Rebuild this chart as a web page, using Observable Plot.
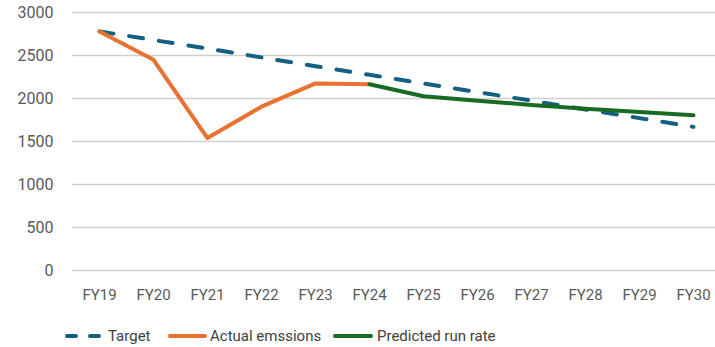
<!DOCTYPE html>
<html><head><meta charset="utf-8">
<script src="https://cdn.jsdelivr.net/npm/d3@7"></script>
<script src="https://cdn.jsdelivr.net/npm/@observablehq/plot@0.6"></script>
<style>
body{margin:0;background:#fff;font-family:Roboto,"Liberation Sans",sans-serif;}
#legend{position:relative;height:37px;width:715px;font-size:15px;color:#404040;}
.item{position:absolute;top:17px;display:flex;align-items:center;}
</style>
</head><body>
<div id="chart"></div>
<div id="legend"></div>
<script>
const years = ["FY19","FY20","FY21","FY22","FY23","FY24","FY25","FY26","FY27","FY28","FY29","FY30"];
const target = [2780,2680,2580,2478,2375,2275,2175,2075,1975,1872,1772,1670];
const actualYears = ["FY19","FY20","FY21","FY22","FY23","FY24"];
const actual = [2780,2450,1540,1905,2175,2165];
const predictedYears = ["FY24","FY25","FY26","FY27","FY28","FY29","FY30"];
const predicted = [2165,2027,1975,1925,1880,1842,1806];
const yTicks = [0,500,1000,1500,2000,2500,3000];

const C_T = "#156082", C_A = "#E97132", C_P = "#196B24";
const tData = years.map((x,i)=>({x, y: target[i]}));
const aData = actualYears.map((x,i)=>({x, y: actual[i]}));
const pData = predictedYears.map((x,i)=>({x, y: predicted[i]}));

const chart = Plot.plot({
  width: 715, height: 310,
  marginLeft: 72, marginRight: 0, marginTop: 12, marginBottom: 40,
  style: {fontFamily: "Roboto, sans-serif", fontSize: "15px", color: "#595959", background: "#fff"},
  x: {type: "point", domain: years, range: [98, 694], padding: 0, label: null},
  y: {domain: [0, 3000], label: null},
  marks: [
    Plot.gridY(yTicks, {stroke: "#d0d0d0", strokeOpacity: 1, strokeWidth: 1.5}),
    Plot.axisY(yTicks, {tickSize: 0, tickPadding: 19, fontSize: 16, tickFormat: "d", fill: "#595959", label: null}),
    Plot.axisX({tickSize: 0, tickPadding: 19, fontSize: 15, fill: "#595959", label: null}),
    Plot.line(tData, {x: "x", y: "y", stroke: C_T, strokeWidth: 4, strokeDasharray: "14,16", strokeLinecap: "round"}),
    Plot.line(aData, {x: "x", y: "y", stroke: C_A, strokeWidth: 4, strokeLinejoin: "round"}),
    Plot.line(pData, {x: "x", y: "y", stroke: C_P, strokeWidth: 4, strokeLinejoin: "round"})
  ]
});
document.getElementById("chart").appendChild(chart);

const items = [
  {label: "Target", color: C_T, dash: "9,14", left: 62, x1: 5, x2: 37, gap: 4},
  {label: "Actual emssions", color: C_A, dash: null, left: 166, x1: 4, x2: 39, gap: 2},
  {label: "Predicted run rate", color: C_P, dash: null, left: 331, x1: 4, x2: 40, gap: 4}
];
const leg = document.getElementById("legend");
for (const it of items) {
  const d = document.createElement("div");
  d.className = "item";
  d.style.left = it.left + "px";
  d.innerHTML = `<svg width="42" height="10"><line x1="${it.x1}" y1="5" x2="${it.x2}" y2="5" stroke="${it.color}" stroke-width="4" stroke-linecap="round" ${it.dash ? `stroke-dasharray="${it.dash}"` : ""}/></svg><span style="margin-left:${it.gap}px">${it.label}</span>`;
  leg.appendChild(d);
}
</script>
</body></html>
